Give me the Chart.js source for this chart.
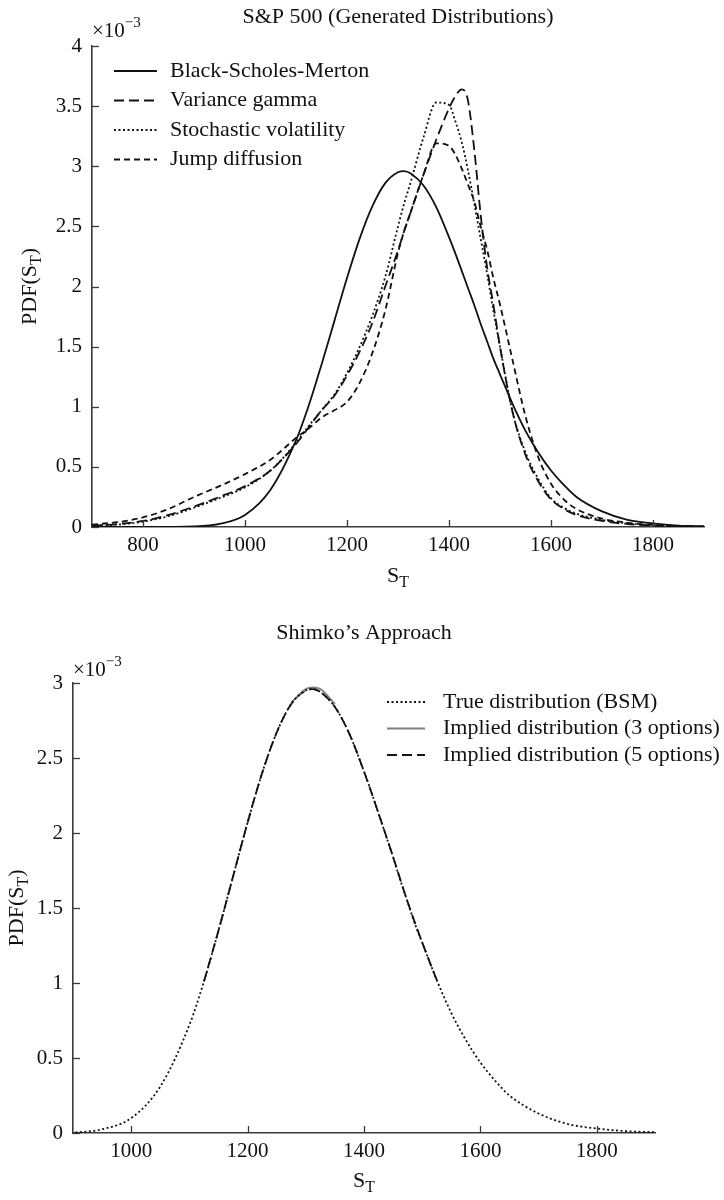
<!DOCTYPE html>
<html>
<head>
<meta charset="utf-8">
<script src="https://cdn.jsdelivr.net/npm/chart.js@4.4.1/dist/chart.umd.min.js"></script>
<style>
  html, body { margin: 0; padding: 0; background: #fff; }
  #wrap { position: relative; width: 724px; height: 1200px; }
  canvas { position: absolute; left: 0; }
  #top { top: 0; }
  #bottom { top: 600px; }
</style>
</head>
<body>
<div id="wrap">
  <canvas id="top" width="724" height="600"></canvas>
  <canvas id="bottom" width="724" height="600"></canvas>
</div>
<script>
// Terminal index level S_T (grid shared by the generated densities)
const strikes = [700, 750, 800, 850, 900, 950, 1000, 1050, 1100, 1125, 1150, 1175, 1200, 1225, 1250, 1275,
  1300, 1312, 1325, 1350, 1375, 1400, 1412, 1425, 1437, 1450, 1462, 1475, 1487, 1500, 1525, 1550, 1575,
  1600, 1625, 1650, 1700, 1750, 1800, 1850, 1900];

// Densities, in units of 1e-3
const bsm = [0, 0, 0, 0.001, 0.004, 0.025, 0.10, 0.31, 0.72, 1.01, 1.35, 1.71, 2.07, 2.40, 2.67, 2.86,
  2.95, 2.96, 2.94, 2.84, 2.66, 2.41, 2.28, 2.13, 1.99, 1.84, 1.69, 1.54, 1.40, 1.27, 1.02, 0.80, 0.62,
  0.47, 0.35, 0.25, 0.13, 0.06, 0.03, 0.012, 0.005];
const varianceGamma = [0.01, 0.025, 0.05, 0.10, 0.17, 0.25, 0.34, 0.47, 0.69, 0.83, 0.97, 1.09, 1.26, 1.46, 1.70, 2.00,
  2.30, 2.46, 2.62, 2.93, 3.22, 3.48, 3.58, 3.64, 3.55, 3.12, 2.60, 2.15, 1.85, 1.50, 0.95, 0.60, 0.38,
  0.23, 0.15, 0.10, 0.05, 0.025, 0.012, 0.006, 0.003];
const stochVol = [0.01, 0.02, 0.045, 0.09, 0.16, 0.24, 0.33, 0.47, 0.70, 0.84, 0.97, 1.10, 1.28, 1.50, 1.76, 2.08,
  2.50, 2.69, 2.87, 3.24, 3.53, 3.51, 3.38, 3.20, 2.97, 2.68, 2.40, 2.10, 1.80, 1.50, 0.95, 0.62, 0.40,
  0.24, 0.16, 0.11, 0.06, 0.03, 0.015, 0.007, 0.003];
const jumpDiff = [0.02, 0.04, 0.08, 0.15, 0.25, 0.34, 0.44, 0.56, 0.74, 0.82, 0.91, 0.97, 1.04, 1.20, 1.45, 1.80,
  2.28, 2.46, 2.62, 2.93, 3.19, 3.17, 3.10, 2.98, 2.85, 2.70, 2.50, 2.30, 2.07, 1.85, 1.38, 0.92, 0.58,
  0.36, 0.23, 0.15, 0.07, 0.035, 0.017, 0.008, 0.004];

// Shimko implied densities (strike range covered by the option quotes)
const implied5Strikes = [1125, 1150, 1175, 1200, 1225, 1250, 1275, 1300, 1312, 1325, 1350, 1375, 1400, 1425, 1450, 1475, 1500, 1525];
const implied5 = [1.01, 1.35, 1.71, 2.07, 2.40, 2.67, 2.86, 2.95, 2.96, 2.94, 2.84, 2.66, 2.41, 2.13, 1.84, 1.54, 1.27, 1.02];
const implied3Strikes = [1275, 1300, 1312, 1325, 1350];
const implied3 = [2.87, 2.96, 2.97, 2.96, 2.86];

// Tick labels
const topXTicks = [800, 1000, 1200, 1400, 1600, 1800];
const topYTicks = [0, 0.5, 1, 1.5, 2, 2.5, 3, 3.5, 4];
const bottomXTicks = [1000, 1200, 1400, 1600, 1800];
const bottomYTicks = [0, 0.5, 1, 1.5, 2, 2.5, 3];

const FONT = '"Liberation Serif", "Times New Roman", serif';
const INK = '#111';
const AXIS = '#3a3a3a';
const TEXT_SIZE = 22;
const TICK_SIZE = 21;

const pts = (xs, ys) => xs.map((x, i) => ({ x, y: ys[i] }));

// Draws text made of runs, some of which are sub- or superscripted
function drawRich(ctx, parts, x, y, size, align) {
  const widths = parts.map(p => {
    ctx.font = (p.sub || p.sup ? size * 0.72 : size) + 'px ' + FONT;
    return ctx.measureText(p.t).width;
  });
  const total = widths.reduce((a, b) => a + b, 0);
  let cx = align === 'center' ? x - total / 2 : x;
  ctx.textAlign = 'left';
  ctx.textBaseline = 'middle';
  parts.forEach((p, i) => {
    ctx.font = (p.sub || p.sup ? size * 0.72 : size) + 'px ' + FONT;
    const dy = p.sub ? size * 0.3 : (p.sup ? -size * 0.38 : 0);
    ctx.fillText(p.t, cx, y + dy);
    cx += widths[i];
  });
}

const decor = {
  id: 'decor',
  afterDraw(chart, args, o) {
    const ctx = chart.ctx;
    const a = chart.chartArea;
    const xs = chart.scales.x, ys = chart.scales.y;
    ctx.save();
    // inward tick marks
    ctx.strokeStyle = AXIS;
    ctx.lineWidth = 1.3;
    xs.ticks.forEach(t => {
      const px = Math.round(xs.getPixelForValue(t.value)) + 0.5;
      ctx.beginPath(); ctx.moveTo(px, a.bottom); ctx.lineTo(px, a.bottom - 7); ctx.stroke();
    });
    ys.ticks.forEach(t => {
      const py = Math.round(ys.getPixelForValue(t.value)) + 0.5;
      ctx.beginPath(); ctx.moveTo(a.left, py); ctx.lineTo(a.left + 7, py); ctx.stroke();
    });
    ctx.fillStyle = INK;
    const midX = (a.left + a.right) / 2;
    // chart title
    drawRich(ctx, [{ t: o.title }], midX, o.titleY, TEXT_SIZE, 'center');
    // exponent marker
    drawRich(ctx, [{ t: '×10' }, { t: '−3', sup: true }], a.left, o.expY, TICK_SIZE, 'left');
    // axis titles
    drawRich(ctx, [{ t: 'S' }, { t: 'T', sub: true }], midX, o.xTitleY, TEXT_SIZE, 'center');
    ctx.save();
    ctx.translate(o.yTitleX, (a.top + a.bottom) / 2);
    ctx.rotate(-Math.PI / 2);
    drawRich(ctx, [{ t: 'PDF(S' }, { t: 'T', sub: true }, { t: ')' }], 0, 0, TEXT_SIZE, 'center');
    ctx.restore();
    // legend
    const L = o.legend;
    chart.data.datasets.forEach((ds, i) => {
      const y = L.y + i * L.gap;
      ctx.save();
      ctx.strokeStyle = ds.borderColor;
      ctx.lineWidth = ds.borderWidth;
      ctx.setLineDash(ds.borderDash || []);
      ctx.beginPath(); ctx.moveTo(L.x, y); ctx.lineTo(L.x + L.len, y); ctx.stroke();
      ctx.restore();
      ctx.fillStyle = INK;
      drawRich(ctx, [{ t: ds.label }], L.textX, y, TEXT_SIZE, 'left');
    });
    ctx.restore();
  }
};

function axes(xMin, xMax, xTicks, yMax, yTicks, xHeight, yWidth) {
  const common = {
    grid: { display: false, drawTicks: false },
    border: { display: true, color: AXIS, width: 1.6 },
  };
  return {
    x: Object.assign({}, common, {
      type: 'linear', min: xMin, max: xMax,
      afterBuildTicks: s => { s.ticks = xTicks.map(v => ({ value: v })); },
      afterFit: s => { s.height = xHeight; },
      ticks: { padding: 6, autoSkip: false, maxRotation: 0, color: INK,
        font: { family: FONT, size: TICK_SIZE }, callback: v => String(v) }
    }),
    y: Object.assign({}, common, {
      min: 0, max: yMax,
      afterBuildTicks: s => { s.ticks = yTicks.map(v => ({ value: v })); },
      afterFit: s => { s.width = yWidth; },
      ticks: { padding: 10, autoSkip: false, color: INK,
        font: { family: FONT, size: TICK_SIZE }, callback: v => String(v) }
    })
  };
}

const lineDefaults = { pointRadius: 0, fill: false, cubicInterpolationMode: 'monotone', borderColor: INK, borderWidth: 1.8 };

new Chart(document.getElementById('top'), {
  type: 'line',
  data: {
    datasets: [
      Object.assign({}, lineDefaults, { label: 'Black-Scholes-Merton', data: pts(strikes, bsm), borderDash: [] }),
      Object.assign({}, lineDefaults, { label: 'Variance gamma', data: pts(strikes, varianceGamma), borderDash: [10, 5] }),
      Object.assign({}, lineDefaults, { label: 'Stochastic volatility', data: pts(strikes, stochVol), borderDash: [2, 2.5] }),
      Object.assign({}, lineDefaults, { label: 'Jump diffusion', data: pts(strikes, jumpDiff), borderDash: [6, 4] })
    ]
  },
  options: {
    responsive: false, animation: false, events: [],
    layout: { padding: { left: 0, top: 46, right: 20, bottom: 0 } },
    plugins: {
      legend: { display: false }, tooltip: { enabled: false },
      decor: { title: 'S&P 500 (Generated Distributions)', titleY: 17, expY: 31, xTitleY: 576, yTitleX: 30,
        legend: { x: 114, y: 71, gap: 29.5, len: 43, textX: 170 } }
    },
    scales: axes(700, 1900, topXTicks, 4, topYTicks, 73, 92)
  },
  plugins: [decor]
});

new Chart(document.getElementById('bottom'), {
  type: 'line',
  data: {
    datasets: [
      Object.assign({}, lineDefaults, { label: 'True distribution (BSM)', data: pts(strikes, bsm), borderDash: [2, 2.5] }),
      Object.assign({}, lineDefaults, { label: 'Implied distribution (3 options)', data: pts(implied3Strikes, implied3), borderColor: '#808080', borderWidth: 2, borderDash: [] }),
      Object.assign({}, lineDefaults, { label: 'Implied distribution (5 options)', data: pts(implied5Strikes, implied5), borderDash: [10, 5] })
    ]
  },
  options: {
    responsive: false, animation: false, events: [],
    layout: { padding: { left: 0, top: 83, right: 69, bottom: 0 } },
    plugins: {
      legend: { display: false }, tooltip: { enabled: false },
      decor: { title: 'Shimko’s Approach', titleY: 33, expY: 70, xTitleY: 581, yTitleX: 17,
        legend: { x: 387, y: 102, gap: 26.5, len: 38, textX: 443 } }
    },
    scales: axes(900, 1900, bottomXTicks, 3, bottomYTicks, 67, 73)
  },
  plugins: [decor]
});
</script>
</body>
</html>
